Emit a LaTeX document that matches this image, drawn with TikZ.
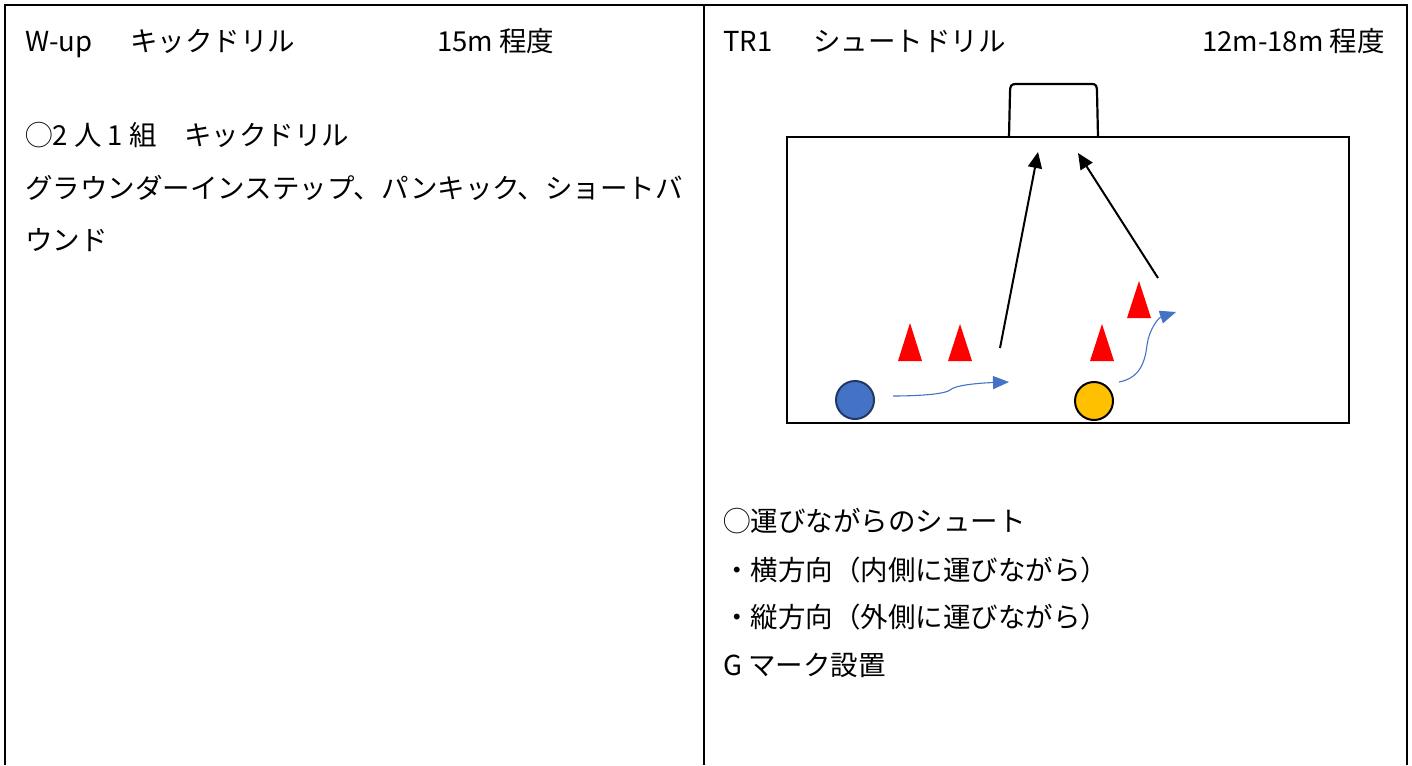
\documentclass[tikz,border=0pt]{standalone}
\usepackage{fontspec}
\setmainfont{Noto Sans CJK JP}
\usetikzlibrary{arrows.meta}
\definecolor{pblue}{HTML}{4472C4}
\definecolor{pbluedark}{HTML}{203864}
\definecolor{pyellow}{HTML}{FFC000}
\definecolor{arrblue}{HTML}{4472C4}
\tikzset{
  txt/.style={anchor=base west, inner sep=0pt, font=\fontsize{27.5}{30}\selectfont},
  txtr/.style={anchor=base east, inner sep=0pt, font=\fontsize{27.5}{30}\selectfont},
  frame/.style={line width=2pt, black},
  field/.style={line width=2.2pt, black},
  shot/.style={line width=2pt, black, -{Triangle[length=16pt,width=14pt]}},
  dribble/.style={line width=1.1pt, arrblue, -{Triangle[length=16pt,width=13pt]}},
  cone/.style={fill=red, draw=none},
  playerA/.style={circle, minimum size=38pt, inner sep=0pt, fill=pblue, draw=pbluedark, line width=2pt},
  playerB/.style={circle, minimum size=38pt, inner sep=0pt, fill=pyellow, draw=black, line width=2pt},
}
\begin{document}
\begin{tikzpicture}[x=1pt,y=-1pt]
\useasboundingbox (0,0) rectangle (1412,765);
% frame
\draw[frame] (5,765) -- (5,5) -- (1407,5) -- (1407,765);
\draw[frame] (704,5) -- (704,765);
% left texts
\node[txt] (lt1) at (25,52) {W-up};
\node[txt] (lt2) at (130,52) {キックドリル};
\node[txt] (lt3) at (437,52) {15m 程度};
\node[txt] (lb1) at (25,146) {◯2 人 1 組　キックドリル};
\node[txt] (lb2) at (25,198) {グラウンダーインステップ、パンキック、ショートバ};
\node[txt] (lb3) at (25,250) {ウンド};
% right texts
\node[txt] (rt1) at (723,52) {TR1};
\node[txt] (rt2) at (813,52) {シュートドリル};
\node[txtr] (rt3) at (1385,52) {12m-18m 程度};
\node[txt] (rb1) at (723,531) {◯運びながらのシュート};
\node[txt] (rb2) at (723,580) {・横方向（内側に運びながら）};
\node[txt] (rb3) at (723,627) {・縦方向（外側に運びながら）};
\node[txt] (rb4) at (723,675) {G マーク設置};
% field
\draw[field] (787,137) rectangle (1349,423);
% goal
\draw[field] (1009,137) -- (1010,92) .. controls (1010,86) and (1011,84) .. (1016,84)
  -- (1092,84) .. controls (1096,84) and (1097,86) .. (1097,92) -- (1098,137);
% cones
\fill[cone] (910,323) -- (922,361) -- (898,361) -- cycle;
\fill[cone] (960,324) -- (972,361) -- (948,361) -- cycle;
\fill[cone] (1102,324) -- (1114,361) -- (1090,361) -- cycle;
\fill[cone] (1139,281) -- (1151,318) -- (1127,318) -- cycle;
% players
\node[playerA] (pa) at (855,400) {};
\node[playerB] (pb) at (1094,401) {};
% arrow endpoints
\coordinate (a1s) at (1000,348);
\coordinate (a1e) at (1038,152);
\coordinate (a2s) at (1158,278);
\coordinate (a2e) at (1078,153);
\coordinate (d1s) at (893,396);
\coordinate (d1m) at (950,390);
\coordinate (d1e) at (1009,382);
\coordinate (d2s) at (1119,382);
\coordinate (d2m) at (1147,345);
\coordinate (d2e) at (1176,312);
% shots
\draw[shot] (a1s) -- (a1e);
\draw[shot] (a2s) -- (a2e);
% dribbles
\draw[dribble] (d1s) .. controls (920,396) and (945,394) .. (d1m) .. controls (955,385) and (980,383) .. (d1e);
\draw[dribble] (d2s) .. controls (1140,378) and (1145,362) .. (d2m) .. controls (1149,330) and (1158,318) .. (d2e);
\end{tikzpicture}
\end{document}
